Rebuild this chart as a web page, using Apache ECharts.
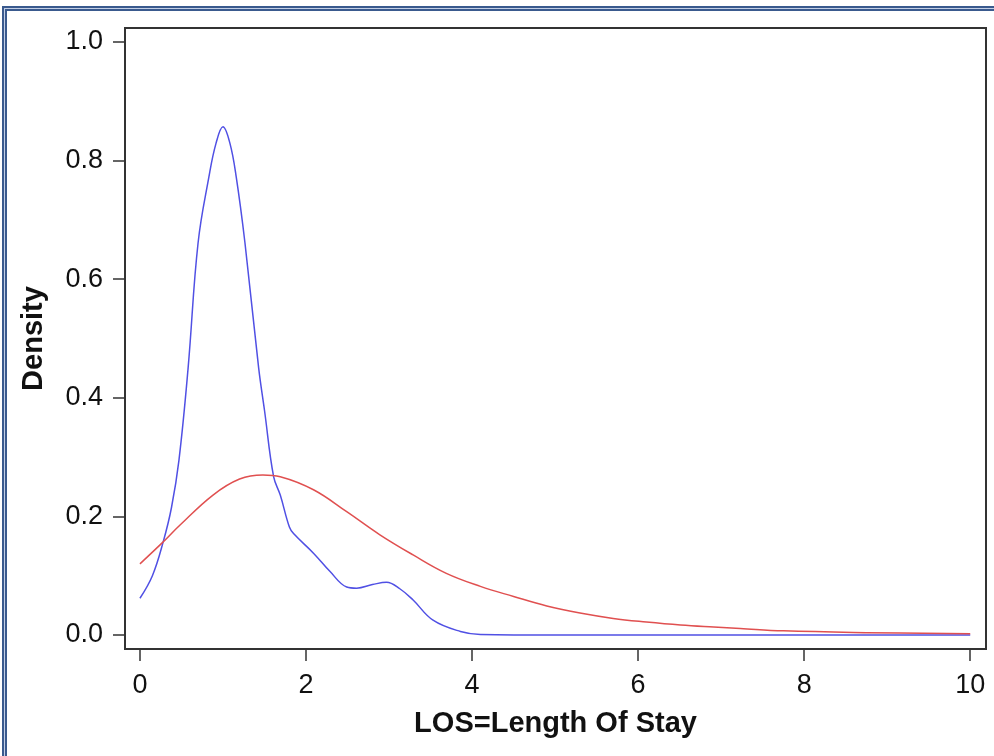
<!DOCTYPE html>
<html>
<head>
<meta charset="utf-8">
<script src="https://cdn.jsdelivr.net/npm/echarts@6/dist/echarts.min.js"></script>
<style>
    body { margin: 0; background: #fff; }
    #frame {
        position: absolute; left: 2px; top: 6px; right: 0; bottom: 0;
        border-top: 2px solid #3a5a8e; border-left: 2px solid #3a5a8e;
        background: #c3cfe6;
    }
    #frameIn {
        position: absolute; left: 1px; top: 1px; right: 0; bottom: 0;
        border-top: 2px solid #3a5a8e; border-left: 2px solid #3a5a8e;
        background: #fff;
    }
    #chart { position: absolute; left: 0; top: 0; width: 994px; height: 756px; }
</style>
</head>
<body>
<div id="frame"><div id="frameIn"></div></div>
<div id="chart"></div>
<script>
// kernel density estimate (blue)
const kernelX = [0, 0.15, 0.28, 0.38, 0.47, 0.58, 0.70, 0.83, 0.916, 1.0, 1.084, 1.16, 1.265, 1.43, 1.5, 1.61, 1.69, 1.80, 1.85, 2.09, 2.29, 2.49, 2.61, 2.80, 2.97, 3.13, 3.29, 3.53, 3.86, 4.1, 5, 6, 7, 8, 9, 10];
const kernelY = [0.062, 0.10, 0.157, 0.215, 0.295, 0.45, 0.661, 0.772, 0.829, 0.857, 0.829, 0.772, 0.661, 0.45, 0.379, 0.267, 0.236, 0.182, 0.171, 0.138, 0.107, 0.081, 0.079, 0.085, 0.089, 0.078, 0.059, 0.025, 0.006, 0.001, 0, 0, 0, 0, 0, 0];

// fitted density (red)
const fitX = [0, 0.28, 0.48, 0.88, 1.2, 1.48, 1.69, 2.09, 2.49, 2.89, 3.29, 3.69, 4.10, 4.50, 4.90, 5.30, 5.70, 6.10, 6.51, 6.91, 7.23, 7.75, 8.75, 10];
const fitY = [0.120, 0.157, 0.185, 0.236, 0.263, 0.270, 0.267, 0.245, 0.208, 0.169, 0.135, 0.104, 0.082, 0.065, 0.049, 0.037, 0.028, 0.022, 0.017, 0.0135, 0.011, 0.007, 0.004, 0.002];

const xTicks = [0, 2, 4, 6, 8, 10];
const yTicks = [0, 0.2, 0.4, 0.6, 0.8, 1.0];

const font = 'Liberation Sans, Arial, sans-serif';

function zip (xs, ys) {
    return xs.map((x, i) => [x, ys[i]]);
}

const chart = echarts.init(document.getElementById('chart'));
chart.setOption({
    animation: false,
    grid: {
        left: 125,
        top: 28,
        right: 8,
        bottom: 107,
        show: true,
        borderColor: '#333',
        borderWidth: 2
    },
    xAxis: {
        type: 'value',
        min: -0.18,
        max: 10.19,
        axisLine: { show: false, onZero: false },
        splitLine: { show: false },
        axisTick: {
            show: true,
            customValues: xTicks,
            length: 12,
            lineStyle: { color: '#333', width: 1.5 }
        },
        axisLabel: {
            customValues: xTicks,
            margin: 23,
            fontSize: 27,
            color: '#111',
            fontFamily: font
        },
        name: 'LOS=Length Of Stay',
        nameLocation: 'middle',
        nameGap: 60,
        nameTextStyle: { fontSize: 29, fontWeight: 'bold', color: '#111', fontFamily: font }
    },
    yAxis: {
        type: 'value',
        min: -0.0236,
        max: 1.0236,
        axisLine: { show: false, onZero: false },
        splitLine: { show: false },
        axisTick: {
            show: true,
            customValues: yTicks,
            length: 12,
            lineStyle: { color: '#333', width: 1.5 }
        },
        axisLabel: {
            customValues: yTicks,
            margin: 22,
            fontSize: 27,
            color: '#111',
            fontFamily: font,
            formatter: (v) => v.toFixed(1)
        },
        name: 'Density',
        nameLocation: 'middle',
        nameGap: 77,
        nameTextStyle: { fontSize: 29, fontWeight: 'bold', color: '#111', fontFamily: font }
    },
    series: [
        {
            name: 'Kernel',
            type: 'line',
            smooth: 0.4,
            showSymbol: false,
            data: zip(kernelX, kernelY),
            lineStyle: { color: '#5050e4', width: 1.5 }
        },
        {
            name: 'Fit',
            type: 'line',
            smooth: 0.4,
            showSymbol: false,
            data: zip(fitX, fitY),
            lineStyle: { color: '#e05050', width: 1.5 }
        }
    ]
});
</script>
</body>
</html>
